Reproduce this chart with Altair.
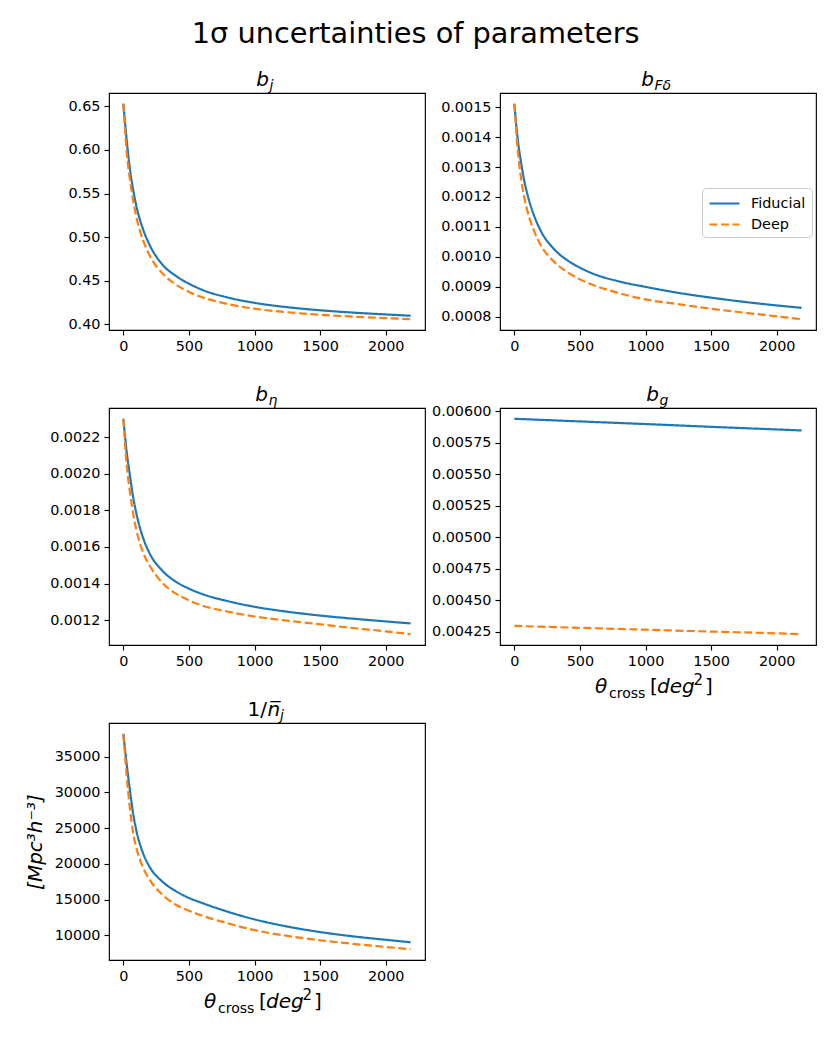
import altair as alt
import pandas as pd

FONT = "DejaVu Sans"
W, H = 316, 237
BLUE, ORANGE = "#1f77b4", "#ff7f0e"
SERIES = ["Fiducial", "Deep"]

# ---------------- data ----------------
x_curve = [0, 25, 50, 75, 100, 150, 200, 300, 400, 500, 600, 800, 1000, 1250, 1500, 1750, 2000, 2190]
x_flat = [0, 500, 1000, 1500, 2000, 2190]

bj_fid = [0.653, 0.612, 0.578, 0.554, 0.535, 0.509, 0.491, 0.468, 0.4555, 0.4465, 0.4395, 0.4305, 0.4245,
          0.4195, 0.416, 0.4133, 0.4112, 0.4097]
bj_deep = [0.653, 0.598, 0.566, 0.542, 0.5225, 0.4965, 0.479, 0.458, 0.4455, 0.437, 0.431, 0.423, 0.4178,
           0.4137, 0.4108, 0.4087, 0.407, 0.4057]

bfd_fid = [0.001511, 0.001395, 0.001318, 0.001255, 0.001208, 0.001138, 0.001088, 0.001027, 0.00099,
           0.000964, 0.000944, 0.000918, 0.0009, 0.00088, 0.000864, 0.00085, 0.000838, 0.00083]
bfd_deep = [0.001511, 0.00136, 0.001265, 0.0012, 0.001152, 0.001087, 0.00104, 0.000985, 0.00095,
            0.000925, 0.000906, 0.000879, 0.000858, 0.000842, 0.000827, 0.000814, 0.0008015, 0.000792]

bn_fid = [0.0023, 0.00212, 0.00199, 0.00187, 0.00178, 0.00165, 0.001565, 0.001468, 0.00141, 0.001372,
          0.001343, 0.001303, 0.001273, 0.001246, 0.001225, 0.001208, 0.001193, 0.001182]
bn_deep = [0.0023, 0.00205, 0.0019, 0.00178, 0.00169, 0.00157, 0.001498, 0.001402, 0.001345, 0.001308,
           0.00128, 0.001246, 0.00122, 0.001197, 0.001177, 0.001157, 0.001139, 0.001123]

bg_fid = [0.005942, 0.005921, 0.0059, 0.005878, 0.005857, 0.005849]
bg_deep = [0.004295, 0.00428, 0.004265, 0.00425, 0.004236, 0.004229]

nj_fid = [38200, 34000, 30300, 27000, 24600, 21500, 19600, 17500, 16200, 15250, 14550, 13300, 12250,
          11250, 10480, 9880, 9400, 9050]
nj_deep = [38200, 32400, 27700, 24300, 22200, 19500, 17800, 15650, 14300, 13450, 12780, 11680, 10750,
           9950, 9330, 8830, 8400, 8080]

x_ticks = [0, 500, 1000, 1500, 2000]
bj_ticks = [0.40, 0.45, 0.50, 0.55, 0.60, 0.65]
bfd_ticks = [0.0008, 0.0009, 0.0010, 0.0011, 0.0012, 0.0013, 0.0014, 0.0015]
bn_ticks = [0.0012, 0.0014, 0.0016, 0.0018, 0.0020, 0.0022]
bg_ticks = [0.00425, 0.00450, 0.00475, 0.00500, 0.00525, 0.00550, 0.00575, 0.00600]
nj_ticks = [10000, 15000, 20000, 25000, 30000, 35000]

main_title = "1σ uncertainties of parameters"
y_title_nj = "[Mpc³h⁻³]"


def piece(txt, x, y, size, italic, align="left"):
    return alt.Chart(alt.Data(values=[{"t": txt}])).mark_text(
        font=FONT, fontSize=size, fontStyle="italic" if italic else "normal",
        align=align, baseline="alphabetic", color="black"
    ).encode(x=alt.value(x), y=alt.value(y), text=alt.Text("t:N"))


def b_title(sub, split):
    return [piece("b", split, -7, 20, True, "right"),
            piece(sub, split + 0.5, -3.5, 14, True, "left")]


def xlabel_pieces():
    yb = H + 48
    return [piece("θ", 95, yb, 20, True),
            piece("cross", 109, yb + 5, 14, False),
            piece("[", 150, yb, 20, False),
            piece("deg", 157, yb, 20, True),
            piece("2", 193.5, yb - 8, 15, False),
            piece("]", 205, yb, 20, False)]


def panel(xs, fid, deep, ticks, fmt, title_layers, legend=False, xlabel=False, ytitle=None):
    df = pd.DataFrame({
        "x": list(xs) + list(xs),
        "v": list(fid) + list(deep),
        "series": [SERIES[0]] * len(xs) + [SERIES[1]] * len(xs),
    })
    vals = list(fid) + list(deep)
    lo, hi = min(vals), max(vals)
    pad = 0.05 * (hi - lo)
    xlo, xhi = min(xs), max(xs)
    xpad = 0.05 * (xhi - xlo)
    if legend:
        leg = alt.Legend(title=None, orient="none", legendX=202, legendY=95,
                         symbolType="M-1,0H2.75", symbolSize=256, symbolStrokeWidth=2.2,
                         labelFont=FONT, labelFontSize=14.4, labelColor="black",
                         labelOffset=24, padding=6, rowPadding=5,
                         strokeColor="#cccccc", fillColor="white", cornerRadius=4)
    else:
        leg = None
    yaxis_kw = dict(values=ticks, format=fmt, labelOverlap=False)
    if ytitle:
        yaxis_kw.update(title=ytitle, titleFontStyle="italic", titleFontSize=20,
                        titleFont=FONT, titlePadding=9, titleFontWeight="normal")
    else:
        yaxis_kw.update(title=None)
    line = alt.Chart(df).mark_line(strokeWidth=2.2, interpolate="monotone").encode(
        x=alt.X("x:Q", scale=alt.Scale(domain=[xlo - xpad, xhi + xpad], nice=False, zero=False),
                axis=alt.Axis(values=x_ticks, format="d", title=None, labelFlush=False)),
        y=alt.Y("v:Q", scale=alt.Scale(domain=[lo - pad, hi + pad], nice=False, zero=False),
                axis=alt.Axis(**yaxis_kw)),
        color=alt.Color("series:N", scale=alt.Scale(domain=SERIES, range=[BLUE, ORANGE]), legend=leg),
        strokeDash=alt.StrokeDash("series:N", scale=alt.Scale(domain=SERIES, range=[[1, 0], [8, 3.5]]),
                                  legend=leg),
    )
    layers = [line] + title_layers + (xlabel_pieces() if xlabel else [])
    return alt.layer(*layers).properties(width=W, height=H)


p1 = panel(x_curve, bj_fid, bj_deep, bj_ticks, ".2f", b_title("j", 160))
p2 = panel(x_curve, bfd_fid, bfd_deep, bfd_ticks, ".4f", b_title("Fδ", 154), legend=True)
p3 = panel(x_curve, bn_fid, bn_deep, bn_ticks, ".4f", b_title("η", 159))
p4 = panel(x_flat, bg_fid, bg_deep, bg_ticks, ".5f", b_title("g", 159), xlabel=True)
p5 = panel(x_curve, nj_fid, nj_deep, nj_ticks, "d",
           [piece("1/", 158, -7, 20, False, "right"),
            piece("n\u0305", 158.5, -7, 20, True, "left"),
            piece("j", 171, -3.5, 14, True, "left")],
           xlabel=True, ytitle=y_title_nj)

chart = alt.concat(
    p1, p2, p3, p4, p5, columns=2, spacing={"row": 78, "column": 75}, bounds="flush",
    title=alt.TitleParams(main_title, fontSize=28.8, font=FONT, fontWeight="normal",
                          color="black", anchor="middle", offset=21, dx=-5),
).resolve_scale(
    color="independent", strokeDash="independent", x="independent", y="independent"
).properties(
    padding={"left": 16, "top": 11, "right": 5, "bottom": 5}
).configure_axis(
    domain=False, grid=False, ticks=True, tickSize=5, tickWidth=1.15, tickColor="black",
    labelFont=FONT, labelFontSize=14.4, labelColor="black", labelPadding=4,
    titleFont=FONT, titleColor="black",
).configure_view(
    stroke="black", strokeWidth=1.15
).configure_title(
    font=FONT
)

chart.save("out.html", embed_options={"renderer": "svg", "actions": False})
